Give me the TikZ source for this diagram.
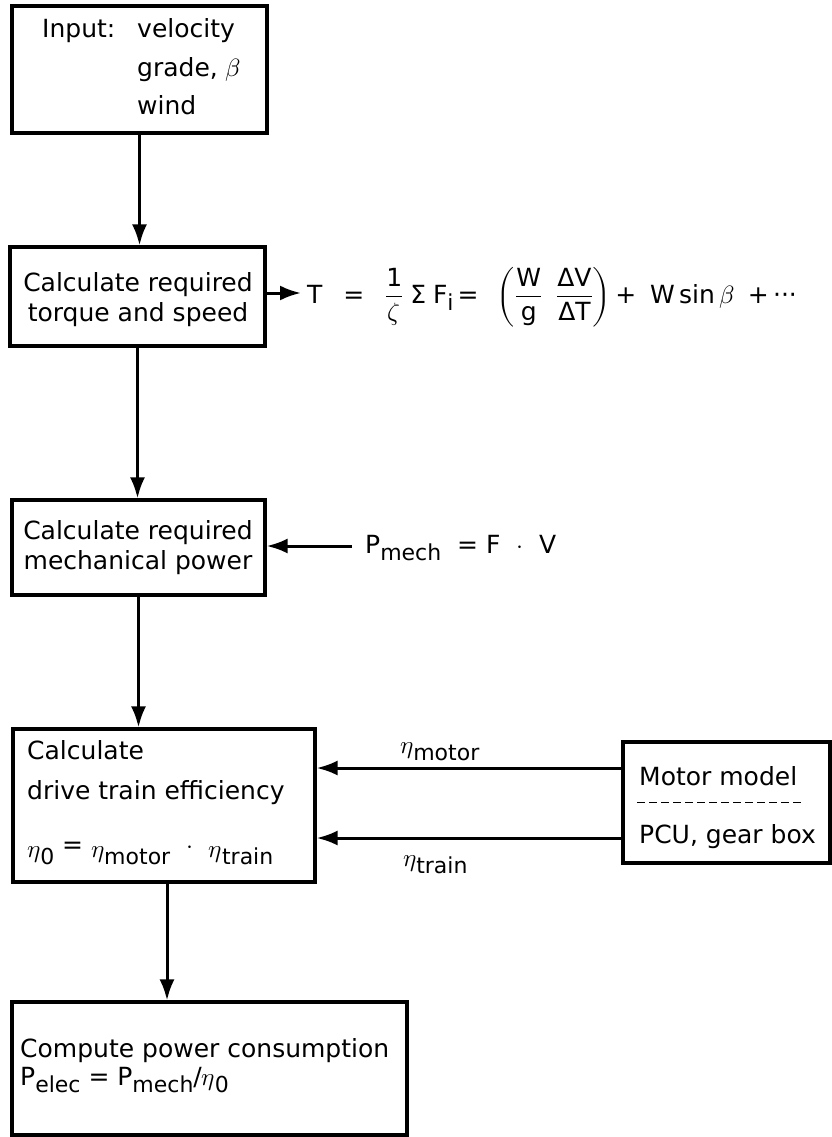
\documentclass[tikz,border=0pt]{standalone}
\usepackage{amsmath}
\usepackage{unicode-math}
\setmainfont{DejaVu Sans}
\setmathfont{Latin Modern Math}
\usetikzlibrary{arrows.meta}
\newcommand{\lsub}[1]{\raisebox{-7pt}{\fontsize{22}{22}\selectfont #1}}
\begin{document}
\begin{tikzpicture}[x=1pt,y=-1pt,
  box/.style={draw, line width=3.2pt, inner sep=0pt},
  conn/.style={line width=3pt, -{Latex[length=21pt,width=15pt]}},
  lbl/.style={inner sep=0pt, font=\fontsize{25}{30}\selectfont}]
\useasboundingbox (0,0) rectangle (831,1137);
% boxes
\node[box, minimum width=255pt, minimum height=127pt] (b1) at (139.5,69.5) {};
\node[box, minimum width=255pt, minimum height=99pt]  (b2) at (137.5,296.5) {};
\node[box, minimum width=253pt, minimum height=95pt]  (b3) at (138.5,547.5) {};
\node[box, minimum width=302pt, minimum height=153pt] (b4) at (164,805.5) {};
\node[box, minimum width=395pt, minimum height=133pt] (b5) at (209.5,1068.5) {};
\node[box, minimum width=207pt, minimum height=121pt] (mm) at (726.5,802.5) {};
% box texts
\node[lbl, anchor=base west] (t1a) at (42,38) {Input:};
\node[lbl, anchor=base west] (t1b) at (137,38) {velocity};
\node[lbl, anchor=base west] (t1c) at (137,76.5) {grade, $\beta$};
\node[lbl, anchor=base west] (t1d) at (137,115) {wind};
\node[lbl, anchor=base] (t2a) at (138,291) {Calculate required};
\node[lbl, anchor=base] (t2b) at (138,321) {torque and speed};
\node[lbl, anchor=base] (t3a) at (138,539) {Calculate required};
\node[lbl, anchor=base] (t3b) at (138,569) {mechanical power};
\node[lbl, anchor=base west] (t4a) at (27,759) {Calculate};
\node[lbl, anchor=base west] (t4b) at (27,799) {drive train efficiency};
\node[lbl, anchor=base west] (t4c) at (27,857) {$\eta$\lsub{0} \raisebox{4pt}{=} $\eta$\lsub{motor}\ \ \raisebox{4pt}{$\cdot$}\ \ $\eta$\lsub{train}};
\node[lbl, anchor=base west] (t5a) at (20,1057) {Compute power consumption};
\node[lbl, anchor=base west] (t5b) at (20,1085) {P\lsub{elec} = P\lsub{mech}/$\eta$\lsub{0}};
\node[lbl, anchor=base west] (tma) at (639,785) {Motor model};
\node[lbl, anchor=base west] (tmb) at (639,843) {PCU, gear box};
\draw[line width=1.5pt, dash pattern=on 8pt off 4pt] ([xshift=16pt]mm.west) -- ([xshift=-30pt]mm.east);
% outside texts
\node[lbl, anchor=base west] (eq) at (307,303)
  {$\text{T}\;\;\;\text{=}\;\;\;\dfrac{\text{1}}{\zeta}\;\text{Σ}\;\text{F\lsub{i}}\,\text{=}\;\;\left(\dfrac{\text{W}}{\text{g}}\;\;\dfrac{\text{ΔV}}{\text{ΔT}}\right)\text{+}\;\; \text{W}\,\text{sin}\,\beta\;\;\text{+}\,\text{···}$};
\node[lbl, anchor=base west] (pm) at (365,553) {P\lsub{mech}\ \ = F \ $\cdot$\ \ V};
\node[lbl, anchor=base west] (lm) at (400,753) {$\eta$\lsub{motor}};
\node[lbl, anchor=base west] (lt) at (403,866) {$\eta$\lsub{train}};
% connectors
\draw[conn] (b1.south) -- (b1.south |- b2.north);
\draw[conn] (b2.south) -- (b2.south |- b3.north);
\draw[conn] (b3.south) -- (b3.south |- b4.north);
\coordinate (d4) at ([xshift=3pt]b4.south);
\draw[conn] (d4) -- (d4 |- b5.north);
\coordinate (eqin) at (301,293);
\draw[conn] (b2.east |- eqin) -- (eqin);
\coordinate (pmtail) at (352,546);
\draw[conn] (pmtail) -- (pmtail -| b3.east);
\coordinate (m1) at ([yshift=34.5pt]mm.west);
\coordinate (m2) at ([yshift=-35.5pt]mm.west);
\draw[conn] (m1) -- (m1 -| b4.east);
\draw[conn] (m2) -- (m2 -| b4.east);
\end{tikzpicture}
\end{document}
